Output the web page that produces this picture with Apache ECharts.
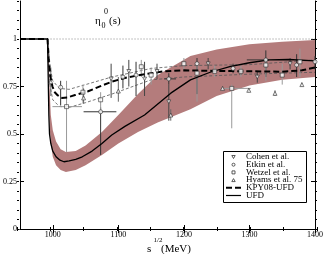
<!DOCTYPE html>
<html><head><meta charset="utf-8">
<script src="https://cdn.jsdelivr.net/npm/echarts@6/dist/echarts.min.js"></script>
<style>html,body{margin:0;padding:0;background:#fff}#c{width:326px;height:254px}</style>
</head><body><div id="c"></div>
<script>
// ---- tick values ----
const xTicks = [1000, 1100, 1200, 1300, 1400];
const yTicks = [0, 0.25, 0.5, 0.75, 1];

// ---- legend entries ----
const legendNames = ['Cohen et al.', 'Etkin et al.', 'Wetzel et al.', 'Hyams et al. 75', 'KPY08-UFD', 'UFD'];

// ---- reference line at eta = 1 ----
const refX = [992, 1400];
const refY = [1, 1];

// ---- UFD (solid) ----
const ufdX = [950, 992, 993, 994, 995, 997, 1000, 1005, 1011, 1017, 1025, 1035, 1045, 1060, 1075, 1090, 1110, 1140, 1180, 1210, 1240, 1270, 1300, 1330, 1360, 1400];
const ufdY = [1, 1, 0.8, 0.6, 0.5, 0.45, 0.41, 0.38, 0.362, 0.354, 0.358, 0.367, 0.38, 0.41, 0.45, 0.495, 0.54, 0.60, 0.715, 0.785, 0.825, 0.855, 0.875, 0.89, 0.892, 0.885];

// ---- UFD uncertainty band ----
const bandX  = [992, 993.5, 995, 997, 1000, 1005, 1012, 1020, 1035, 1050, 1075, 1100, 1130, 1160, 1210, 1250, 1300, 1350, 1400];
const bandLo = [1, 0.75, 0.55, 0.45, 0.38, 0.335, 0.31, 0.30, 0.31, 0.335, 0.39, 0.45, 0.51, 0.56, 0.63, 0.70, 0.755, 0.785, 0.80];
const bandHi = [1, 0.95, 0.75, 0.60, 0.52, 0.46, 0.42, 0.405, 0.41, 0.44, 0.51, 0.60, 0.71, 0.81, 0.91, 0.945, 0.972, 0.985, 0.995];

// ---- KPY08-UFD (dashed) ----
const kpyX = [950, 992, 994, 996.5, 999.5, 1003, 1007, 1014, 1022, 1034, 1054, 1075, 1090, 1110, 1140, 1170, 1200, 1250, 1300, 1350, 1380, 1400];
const kpyY = [1, 1, 0.88, 0.80, 0.75, 0.72, 0.705, 0.69, 0.692, 0.705, 0.725, 0.755, 0.775, 0.795, 0.815, 0.83, 0.835, 0.832, 0.83, 0.828, 0.835, 0.85];

// ---- KPY08 error band (thin lines) ----
const kpyBX  = [992, 994, 996, 1000, 1010, 1025, 1050, 1090, 1150, 1200, 1300, 1400];
const kpyUp  = [1, 0.93, 0.85, 0.78, 0.74, 0.735, 0.76, 0.80, 0.845, 0.86, 0.865, 0.89];
const kpyLow = [1, 0.85, 0.75, 0.68, 0.645, 0.64, 0.665, 0.71, 0.785, 0.80, 0.815, 0.825];

// ---- data: Cohen et al. ----
const cohX  = [1089, 1116, 1140, 1159, 1177, 1237, 1312, 1362];
const cohY  = [0.79, 0.83, 0.79, 0.83, 0.67, 0.87, 0.80, 0.87];
const cohLo = [0.69, 0.75, 0.70, 0.79, 0.57, 0.84, 0.77, 0.84];
const cohHi = [0.87, 0.89, 0.88, 0.87, 0.76, 0.90, 0.83, 0.90];

// ---- data: Etkin et al. ----
const etkX  = [1012, 1073, 1107, 1127, 1177, 1220, 1275, 1325, 1372, 1400];
const etkY  = [0.746, 0.617, 0.80, 0.81, 0.79, 0.87, 0.845, 0.89, 0.863, 0.88];
const etkLo = [0.65, 0.39, 0.74, 0.70, 0.76, 0.71, 0.82, 0.80, 0.80, 0.84];
const etkHi = [0.78, 0.64, 0.86, 0.88, 0.82, 0.90, 0.87, 0.94, 0.92, 0.91];
const etkXL = [1012, 1047, 1107, 1127, 1170, 1220, 1275, 1296, 1372, 1400];
const etkXH = [1012, 1097, 1107, 1127, 1188, 1220, 1275, 1330, 1372, 1400];

// ---- data: Wetzel et al. ----
const wetX  = [1021, 1046, 1073, 1135, 1150, 1200, 1220, 1247, 1273, 1287, 1325, 1350, 1377];
const wetY  = [0.644, 0.72, 0.68, 0.854, 0.81, 0.87, 0.82, 0.83, 0.74, 0.83, 0.863, 0.81, 0.88];
const wetLo = [0.405, 0.66, 0.61, 0.80, 0.76, 0.84, 0.67, 0.80, 0.53, 0.80, 0.78, 0.76, 0.80];
const wetHi = [0.78, 0.76, 0.72, 0.89, 0.85, 0.90, 0.88, 0.86, 0.76, 0.86, 0.89, 0.87, 0.95];
const wetXL = [999.5, 1046, 1073, 1135, 1150, 1200, 1220, 1247, 1259, 1287, 1325, 1350, 1377];
const wetXH = [1044.5, 1046, 1073, 1135, 1150, 1200, 1220, 1247, 1302, 1287, 1325, 1350, 1377];

// ---- data: Hyams et al. 75 ----
const hyaX  = [997, 1047, 1100, 1180, 1259, 1299, 1339, 1380];
const hyaY  = [0.775, 0.69, 0.726, 0.60, 0.74, 0.73, 0.714, 0.76];
const hyaLo = [0.70, 0.66, 0.67, 0.57, 0.73, 0.72, 0.70, 0.75];
const hyaHi = [0.85, 0.74, 0.80, 0.63, 0.75, 0.74, 0.73, 0.77];

const FONT = '"Liberation Serif", "DejaVu Serif", serif';
const zip = (a, b) => a.map((v, i) => [v, b[i]]);
const MK = { color: '#fff', borderColor: '#333', borderWidth: 0.8 };
const SYM = {
  cohen: 'path://M0,0L2,0L1,1.8Z',
  etkin: 'circle',
  wetzel: 'rect',
  hyams: 'triangle'
};

function errData(x, y, lo, hi, xl, xh) {
  return x.map((v, i) => [v, y[i], lo[i], hi[i], xl ? xl[i] : v, xh ? xh[i] : v]);
}
function errSeries(data, color) {
  return {
    type: 'custom', xAxisIndex: 0, yAxisIndex: 0, z: 3, silent: true,
    data: data,
    renderItem: function (params, api) {
      const x = api.value(0), y = api.value(1), lo = api.value(2), hi = api.value(3), xl = api.value(4), xh = api.value(5);
      const a = api.coord([x, lo]), b = api.coord([x, hi]);
      const ch = [{ type: 'line', shape: { x1: a[0], y1: a[1], x2: b[0], y2: b[1] }, style: { stroke: color, lineWidth: 1 } }];
      if (xh > xl) {
        const c = api.coord([xl, y]), d = api.coord([xh, y]);
        ch.push({ type: 'line', shape: { x1: c[0], y1: c[1], x2: d[0], y2: d[1] }, style: { stroke: color, lineWidth: 1 } });
      }
      return { type: 'group', children: ch };
    }
  };
}

// ---- legend drawn as graphic elements (box, keys, text) ----
const LG = { x: 223.5, y: 151.5, w: 83, h: 51, row0: 157, step: 7.7, iconX: 226, iconW: 15, textX: 246 };
function legendGraphic() {
  const els = [{ type: 'rect', shape: { x: LG.x, y: LG.y, width: LG.w, height: LG.h }, style: { fill: '#fff', stroke: '#000', lineWidth: 1 }, z: 10 }];
  const cx = LG.iconX + LG.iconW / 2;
  legendNames.forEach((name, i) => {
    const cy = LG.row0 + i * LG.step;
    let icon;
    if (i === 0) icon = { type: 'polygon', shape: { points: [[cx - 1.7, cy - 1.5], [cx + 1.7, cy - 1.5], [cx, cy + 1.5]] }, style: { fill: '#fff', stroke: '#333', lineWidth: 0.8 } };
    else if (i === 1) icon = { type: 'circle', shape: { cx: cx, cy: cy, r: 1.5 }, style: { fill: '#fff', stroke: '#333', lineWidth: 0.8 } };
    else if (i === 2) icon = { type: 'rect', shape: { x: cx - 1.5, y: cy - 1.5, width: 3, height: 3 }, style: { fill: '#fff', stroke: '#333', lineWidth: 0.8 } };
    else if (i === 3) icon = { type: 'polygon', shape: { points: [[cx - 1.7, cy + 1.5], [cx + 1.7, cy + 1.5], [cx, cy - 1.5]] }, style: { fill: '#fff', stroke: '#333', lineWidth: 0.8 } };
    else if (i === 4) icon = { type: 'line', shape: { x1: LG.iconX, y1: cy, x2: LG.iconX + LG.iconW, y2: cy }, style: { stroke: '#000', lineWidth: 2, lineDash: [6, 3] } };
    else icon = { type: 'line', shape: { x1: LG.iconX, y1: cy, x2: LG.iconX + LG.iconW, y2: cy }, style: { stroke: '#000', lineWidth: 1.2 } };
    icon.z = 11;
    els.push(icon);
    els.push({ type: 'text', x: LG.textX, y: cy, z: 11, style: { text: name, font: '9px ' + FONT, fill: '#000', verticalAlign: 'middle' } });
  });
  return els;
}

const chart = echarts.init(document.getElementById('c'), null, { renderer: 'canvas' });
const gridPos = { left: 17, right: 9, top: 1, bottom: 25 };
const lineCol = '#000';

const option = {
  animation: false,
  backgroundColor: '#fff',
  grid: [Object.assign({}, gridPos), Object.assign({}, gridPos)],
  xAxis: [
    { gridIndex: 0, type: 'value', position: 'bottom', min: 950, max: 1400,
      axisLine: { lineStyle: { color: lineCol, width: 1 } },
      axisTick: { inside: true, length: 4, customValues: xTicks, lineStyle: { color: lineCol } },
      axisLabel: { customValues: xTicks, formatter: v => String(v), fontSize: 8, fontFamily: FONT, color: '#000', margin: 2 },
      splitLine: { show: false } },
    { gridIndex: 0, type: 'value', position: 'top', min: 950, max: 1400,
      axisLine: { lineStyle: { color: lineCol, width: 1 } },
      axisTick: { inside: true, length: 4, customValues: xTicks, lineStyle: { color: lineCol } },
      axisLabel: { show: false }, splitLine: { show: false } },
    { gridIndex: 1, type: 'value', position: 'bottom', min: 950, max: 1400, interval: 50,
      axisLine: { show: false },
      axisTick: { inside: true, length: 2, lineStyle: { color: lineCol } },
      axisLabel: { show: false }, splitLine: { show: false } },
    { gridIndex: 1, type: 'value', position: 'top', min: 950, max: 1400, interval: 50,
      axisLine: { show: false },
      axisTick: { inside: true, length: 2, lineStyle: { color: lineCol } },
      axisLabel: { show: false }, splitLine: { show: false } }
  ],
  yAxis: [
    { gridIndex: 0, type: 'value', position: 'left', min: 0, max: 1.2,
      axisLine: { show: true, lineStyle: { color: lineCol, width: 1 } },
      axisTick: { show: true, inside: true, length: 4, customValues: yTicks, lineStyle: { color: lineCol } },
      axisLabel: { customValues: yTicks, formatter: v => String(v), fontSize: 8, fontFamily: FONT, color: '#000', margin: 3 },
      splitLine: { show: false } },
    { gridIndex: 0, type: 'value', position: 'right', min: 0, max: 1.2,
      axisLine: { show: true, lineStyle: { color: lineCol, width: 1 } },
      axisTick: { show: true, inside: true, length: 4, customValues: yTicks, lineStyle: { color: lineCol } },
      axisLabel: { show: false }, splitLine: { show: false } },
    { gridIndex: 1, type: 'value', position: 'left', min: 0, max: 1.2, interval: 0.05,
      axisLine: { show: false },
      axisTick: { show: true, inside: true, length: 2, lineStyle: { color: lineCol } },
      axisLabel: { show: false }, splitLine: { show: false } },
    { gridIndex: 1, type: 'value', position: 'right', min: 0, max: 1.2, interval: 0.05,
      axisLine: { show: false },
      axisTick: { show: true, inside: true, length: 2, lineStyle: { color: lineCol } },
      axisLabel: { show: false }, splitLine: { show: false } }
  ],
  graphic: [
    { type: 'text', x: 95, y: 21.5, style: { text: 'η', font: '11px ' + FONT, fill: '#000', verticalAlign: 'middle' } },
    { type: 'text', x: 101.5, y: 25.5, style: { text: '0', font: '8px ' + FONT, fill: '#000', verticalAlign: 'middle' } },
    { type: 'text', x: 104, y: 11.5, style: { text: '0', font: '8px ' + FONT, fill: '#000', verticalAlign: 'middle' } },
    { type: 'text', x: 109, y: 21, style: { text: '(s)', font: '11px ' + FONT, fill: '#000', verticalAlign: 'middle' } },
    { type: 'text', x: 147, y: 249, style: { text: 's', font: '11px ' + FONT, fill: '#000', verticalAlign: 'middle' } },
    { type: 'text', x: 153.5, y: 240.5, style: { text: '1/2', font: '7px ' + FONT, fill: '#000', verticalAlign: 'middle' } },
    { type: 'text', x: 161, y: 249, style: { text: '(MeV)', font: '11px ' + FONT, fill: '#000', verticalAlign: 'middle' } }
  ].concat(legendGraphic()),
  series: [
    { // UFD band
      type: 'custom', xAxisIndex: 0, yAxisIndex: 0, z: 1, silent: true,
      data: bandX.map((x, i) => [x, bandLo[i], bandHi[i]]),
      renderItem: function (params, api) {
        if (params.dataIndex !== 0) return null;
        const pts = [];
        for (let i = 0; i < bandX.length; i++) pts.push(api.coord([bandX[i], bandHi[i]]));
        for (let i = bandX.length - 1; i >= 0; i--) pts.push(api.coord([bandX[i], bandLo[i]]));
        return { type: 'polygon', shape: { points: pts }, style: { fill: '#b47c7c', stroke: null } };
      }
    },
    { type: 'line', xAxisIndex: 0, yAxisIndex: 0, data: zip(refX, refY), symbol: 'none', z: 2, silent: true,
      lineStyle: { color: '#888', width: 1, type: [1, 2] } },
    { type: 'line', xAxisIndex: 0, yAxisIndex: 0, data: zip(kpyBX, kpyUp), symbol: 'none', z: 2, silent: true,
      lineStyle: { color: '#555', width: 0.8, type: [3, 2] } },
    { type: 'line', xAxisIndex: 0, yAxisIndex: 0, data: zip(kpyBX, kpyLow), symbol: 'none', z: 2, silent: true,
      lineStyle: { color: '#555', width: 0.8, type: [3, 2] } },
    errSeries(errData(cohX, cohY, cohLo, cohHi), '#444'),
    errSeries(errData(etkX, etkY, etkLo, etkHi, etkXL, etkXH), '#333'),
    errSeries(errData(wetX, wetY, wetLo, wetHi, wetXL, wetXH), '#999'),
    errSeries(errData(hyaX, hyaY, hyaLo, hyaHi), '#666'),
    { name: legendNames[4], type: 'line', xAxisIndex: 0, yAxisIndex: 0, data: zip(kpyX, kpyY), symbol: 'none', z: 4,
      lineStyle: { color: '#000', width: 2, type: [6, 3] } },
    { name: legendNames[5], type: 'line', xAxisIndex: 0, yAxisIndex: 0, data: zip(ufdX, ufdY), symbol: 'none', z: 4,
      lineStyle: { color: '#000', width: 1.3 } },
    { name: legendNames[0], type: 'scatter', xAxisIndex: 0, yAxisIndex: 0, data: zip(cohX, cohY), z: 5,
      symbol: SYM.cohen, symbolKeepAspect: true, symbolSize: 4, itemStyle: MK },
    { name: legendNames[1], type: 'scatter', xAxisIndex: 0, yAxisIndex: 0, data: zip(etkX, etkY), z: 5,
      symbol: SYM.etkin, symbolSize: 4, itemStyle: MK },
    { name: legendNames[2], type: 'scatter', xAxisIndex: 0, yAxisIndex: 0, data: zip(wetX, wetY), z: 5,
      symbol: SYM.wetzel, symbolSize: 4, itemStyle: MK },
    { name: legendNames[3], type: 'scatter', xAxisIndex: 0, yAxisIndex: 0, data: zip(hyaX, hyaY), z: 5,
      symbol: SYM.hyams, symbolSize: 4, itemStyle: MK }
  ]
};
chart.setOption(option);
</script></body></html>
